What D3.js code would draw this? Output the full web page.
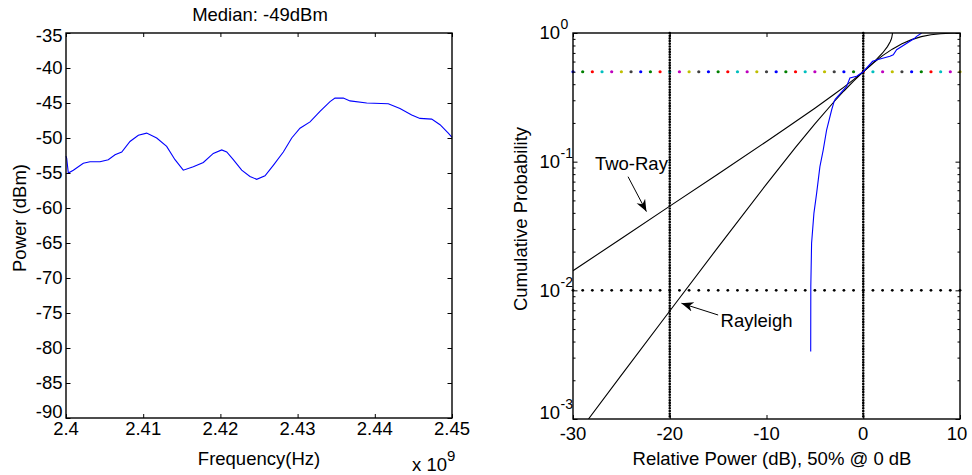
<!DOCTYPE html>
<html>
<head>
<meta charset="utf-8">
<script src="https://cdn.jsdelivr.net/npm/d3@7"></script>
<style>
body { margin: 0; background: #fff; }
text { font-family: "Liberation Sans", Arial, Helvetica, sans-serif; font-size: 18.5px; fill: #000; }
</style>
</head>
<body>
<svg id="fig" width="972" height="475"></svg>
<script>
// ---- left panel: measured spectrum (frequency in units of 1e9 Hz) ----
const freqGHz = [2.4, 2.40009, 2.4003, 2.40095, 2.40224, 2.40311, 2.4044, 2.40548, 2.40635, 2.40722,
    2.40829, 2.40937, 2.41045, 2.41175, 2.41304, 2.41412, 2.41519, 2.41649, 2.41779, 2.41908,
    2.42017, 2.42082, 2.42167, 2.42276, 2.42383, 2.4247, 2.42578, 2.42685, 2.42815, 2.42924,
    2.43031, 2.43161, 2.4329, 2.4342, 2.43484, 2.43592, 2.43679, 2.43895, 2.44175, 2.44326,
    2.44478, 2.44585, 2.44737, 2.44845, 2.44952, 2.45];
const powerDbm = [-52.6, -52.9, -55.0, -54.6, -53.6, -53.4, -53.4, -53.1, -52.4, -52.0,
    -50.5, -49.6, -49.3, -50.0, -51.2, -53.1, -54.6, -54.1, -53.5, -52.2,
    -51.7, -52.0, -53.1, -54.6, -55.5, -55.9, -55.4, -53.9, -52.0, -50.0,
    -48.6, -47.7, -46.2, -44.8, -44.3, -44.3, -44.7, -45.0, -45.1, -45.8,
    -46.7, -47.2, -47.3, -48.1, -49.3, -49.9];
const freqTicks = [2.4, 2.41, 2.42, 2.43, 2.44, 2.45];
const powerTicks = [-35, -40, -45, -50, -55, -60, -65, -70, -75, -80, -85, -90];
const medianLabel = "Median: -49dBm";

// ---- right panel: cumulative distributions ----
const twoRayDb = [-30, -25, -20, -15, -10, -8, -5, -3, -2, -1, 0, 1, 2, 2.5, 2.8, 2.9, 2.95, 3.0, 3.02];
const twoRayProb = [0.0142, 0.0253, 0.0451, 0.0803, 0.1436, 0.1817, 0.2603, 0.3338, 0.3797, 0.434, 0.5,
    0.5837, 0.6991, 0.7841, 0.8592, 0.899, 0.925, 0.969, 1.0];
const rayleighDb = [-28.4, -25, -20, -15, -10, -7, -5, -3, -2, -1, 0, 1, 2, 3, 4, 5, 6, 7, 8, 9, 10];
const rayleighProb = [0.001, 0.00219, 0.00691, 0.02168, 0.06697, 0.1292, 0.1968, 0.2935, 0.3542, 0.4234, 0.5,
    0.582, 0.667, 0.749, 0.825, 0.888, 0.937, 0.969, 0.987, 0.9959, 0.999];
const measuredDb = [-5.43, -5.42, -5.34, -5.1, -4.82, -4.48, -4.14, -3.79, -3.27, -3.0, -2.9,
    -1.72, -1.38, -0.68, 0, 0.97, 1.45, 2.76, 3.1, 3.45, 5.35, 5.52, 6.04];
const measuredProb = [0.00334, 0.0107, 0.0232, 0.0396, 0.0567, 0.0914, 0.123, 0.176, 0.252, 0.295, 0.305,
    0.385, 0.447, 0.461, 0.5, 0.603, 0.62, 0.659, 0.678, 0.742, 0.915, 0.942, 1.0];
const markerDb = [-30, -29, -28, -27, -26, -25, -24, -23, -22, -21, -20, -19, -18, -17, -16, -15, -14,
    -13, -12, -11, -10, -9, -8, -7, -6, -5, -4, -3, -2, -1, 0, 1, 2, 3, 4, 5, 6, 7, 8, 9, 10];
const medianProb = 0.5;
const floorProb = 0.01;
const refDb = [-20, 0];
const markerColors = ["#0000ff", "#008000", "#ff0000", "#00bfbf", "#bf00bf", "#bfbf00", "#404040"];
const relTicks = [-30, -20, -10, 0, 10];
const probTicks = [1, 0.1, 0.01, 0.001];
const probExp = ["0", "-1", "-2", "-3"];

const svg = d3.select("#fig");
svg.append("rect").attr("width", 972).attr("height", 475).attr("fill", "#fff");

function boxFrame(g, x, y, xt, yt, minor) {
    const [x0, x1] = x.range();
    const [y0, y1] = y.range(); // y0 bottom, y1 top
    g.append("g").attr("transform", `translate(0,${y0})`)
        .call(d3.axisBottom(x).tickValues(xt).tickSize(-4).tickFormat(""));
    g.append("g").attr("transform", `translate(0,${y1})`)
        .call(d3.axisTop(x).tickValues(xt).tickSize(-4).tickFormat(""));
    g.append("g").attr("transform", `translate(${x0},0)`)
        .call(d3.axisLeft(y).tickValues(yt).tickSize(-4.5).tickFormat(""));
    g.append("g").attr("transform", `translate(${x1},0)`)
        .call(d3.axisRight(y).tickValues(yt).tickSize(-4.5).tickFormat(""));
    if (minor) {
        g.append("g").attr("transform", `translate(${x0},0)`)
            .call(d3.axisLeft(y).tickValues(minor).tickSize(-2.5).tickFormat(""));
        g.append("g").attr("transform", `translate(${x1},0)`)
            .call(d3.axisRight(y).tickValues(minor).tickSize(-2.5).tickFormat(""));
    }
    g.selectAll(".domain").remove();
    g.selectAll(".tick line").attr("stroke", "#000").attr("stroke-width", 1);
    g.append("rect")
        .attr("x", x0).attr("y", y1)
        .attr("width", x1 - x0).attr("height", y0 - y1)
        .attr("fill", "none").attr("stroke", "#000").attr("stroke-width", 1.4);
}

// ================= left panel =================
const xL = d3.scaleLinear().domain([2.4, 2.45]).range([66, 452]);
const yL = d3.scaleLinear().domain([-90, -35]).range([418, 33]);
const gL = svg.append("g");

gL.append("path")
    .datum(freqGHz.map((f, i) => [f, powerDbm[i]]))
    .attr("fill", "none").attr("stroke", "#0000ff").attr("stroke-width", 1.1)
    .attr("d", d3.line().x(d => xL(d[0])).y(d => yL(d[1])));

boxFrame(gL, xL, yL, freqTicks, powerTicks, null);

gL.selectAll(".ylab").data(powerTicks).enter().append("text")
    .attr("x", 62.5)
    .attr("y", (d, i) => yL(d) + (i == 0 ? 8.8 : i == powerTicks.length - 1 ? -0.5 : 6.4))
    .attr("text-anchor", "end")
    .text(d => d);
gL.selectAll(".xlab").data(freqTicks).enter().append("text")
    .attr("x", d => xL(d)).attr("y", 434.5)
    .attr("text-anchor", "middle")
    .text(d => d);
gL.append("text").attr("x", 260).attr("y", 20.7).attr("text-anchor", "middle").text(medianLabel);
gL.append("text").attr("x", 259).attr("y", 464.5).attr("text-anchor", "middle").text("Frequency(Hz)");
gL.append("text").attr("transform", "translate(25.5,218) rotate(-90)")
    .attr("text-anchor", "middle").text("Power (dBm)");
const sci = gL.append("text").attr("x", 412).attr("y", 471);
sci.append("tspan").text("x 10");
sci.append("tspan").attr("dy", -10).style("font-size", "15px").text("9");

// ================= right panel =================
const xR = d3.scaleLinear().domain([-30, 10]).range([573, 960]);
const yR = d3.scaleLog().domain([0.001, 1]).range([419, 33]);
const gR = svg.append("g");

svg.append("clipPath").attr("id", "clipR").append("rect")
    .attr("x", 573).attr("y", 33).attr("width", 387).attr("height", 386);

// median reference: coloured markers at 50%
gR.selectAll(".med").data(markerDb).enter().append("circle")
    .attr("cx", d => xR(d)).attr("cy", yR(medianProb)).attr("r", 1.6)
    .attr("fill", (d, i) => markerColors[i % markerColors.length]);

// 1% reference: black markers
gR.selectAll(".flr").data(markerDb).enter().append("circle")
    .attr("cx", d => xR(d)).attr("cy", yR(floorProb)).attr("r", 1.4)
    .attr("fill", "#000");

// vertical dotted lines at -20 dB and 0 dB
gR.selectAll(".vref").data(refDb).enter().append("line")
    .attr("x1", d => xR(d)).attr("x2", d => xR(d))
    .attr("y1", yR(1)).attr("y2", yR(0.001))
    .attr("stroke", "#000").attr("stroke-width", 2.6)
    .attr("stroke-linecap", "round").attr("stroke-dasharray", "0 2.7");

const lineR = d3.line().x(d => xR(d[0])).y(d => yR(d[1]));
const curves = [
    { db: twoRayDb, p: twoRayProb, color: "#000" },
    { db: rayleighDb, p: rayleighProb, color: "#000" },
    { db: measuredDb, p: measuredProb, color: "#0000ff" }
];
gR.selectAll(".cdf").data(curves).enter().append("path")
    .attr("clip-path", "url(#clipR)")
    .attr("fill", "none")
    .attr("stroke", d => d.color).attr("stroke-width", 1.1)
    .attr("d", d => lineR(d.db.map((v, i) => [v, d.p[i]])));

const minorTicks = yR.ticks().filter(v => probTicks.indexOf(v) < 0 && v < 1);
boxFrame(gR, xR, yR, relTicks, probTicks, minorTicks);

// y labels 10^n
probTicks.forEach(function(v, i) {
    gR.append("text")
        .attr("x", 560).attr("y", yR(v) + (i == probTicks.length - 1 ? -0.5 : 6.3))
        .attr("text-anchor", "end").text("10");
    gR.append("text")
        .attr("x", 560.5).attr("y", yR(v) + (i == probTicks.length - 1 ? -10.5 : -3.7))
        .style("font-size", "14px").text(probExp[i]);
});
gR.selectAll(".xlab").data(relTicks).enter().append("text")
    .attr("x", d => xR(d) - (d == 10 ? 3 : 0)).attr("y", 440)
    .attr("text-anchor", "middle")
    .text(d => d);
gR.append("text").attr("x", 772).attr("y", 464.5).attr("text-anchor", "middle")
    .text("Relative Power (dB), 50% @ 0 dB");
gR.append("text").attr("transform", "translate(527,219) rotate(-90)")
    .attr("text-anchor", "middle").text("Cumulative Probability");

// annotations
svg.append("defs").append("marker")
    .attr("id", "arrowHead").attr("viewBox", "0 0 10 10")
    .attr("refX", 10).attr("refY", 5)
    .attr("markerWidth", 12).attr("markerHeight", 12)
    .attr("markerUnits", "userSpaceOnUse")
    .attr("orient", "auto")
    .append("path").attr("d", "M0,1 L10,5 L0,9 L3,5 Z").attr("fill", "#000");

const notes = [
    { text: "Two-Ray", tx: -23.96, tp: 0.0861, from: [-24.31, 0.0764], to: [-22.41, 0.0409], anchor: "middle" },
    { text: "Rayleigh", tx: -14.75, tp: 0.00521, from: [-15.0, 0.00643], to: [-18.79, 0.00793], anchor: "start" }
];
notes.forEach(function(n) {
    gR.append("text").attr("x", xR(n.tx)).attr("y", yR(n.tp))
        .attr("text-anchor", n.anchor).text(n.text);
    gR.append("line")
        .attr("x1", xR(n.from[0])).attr("y1", yR(n.from[1]))
        .attr("x2", xR(n.to[0])).attr("y2", yR(n.to[1]))
        .attr("stroke", "#000").attr("stroke-width", 1)
        .attr("marker-end", "url(#arrowHead)");
});
</script>
</body>
</html>
